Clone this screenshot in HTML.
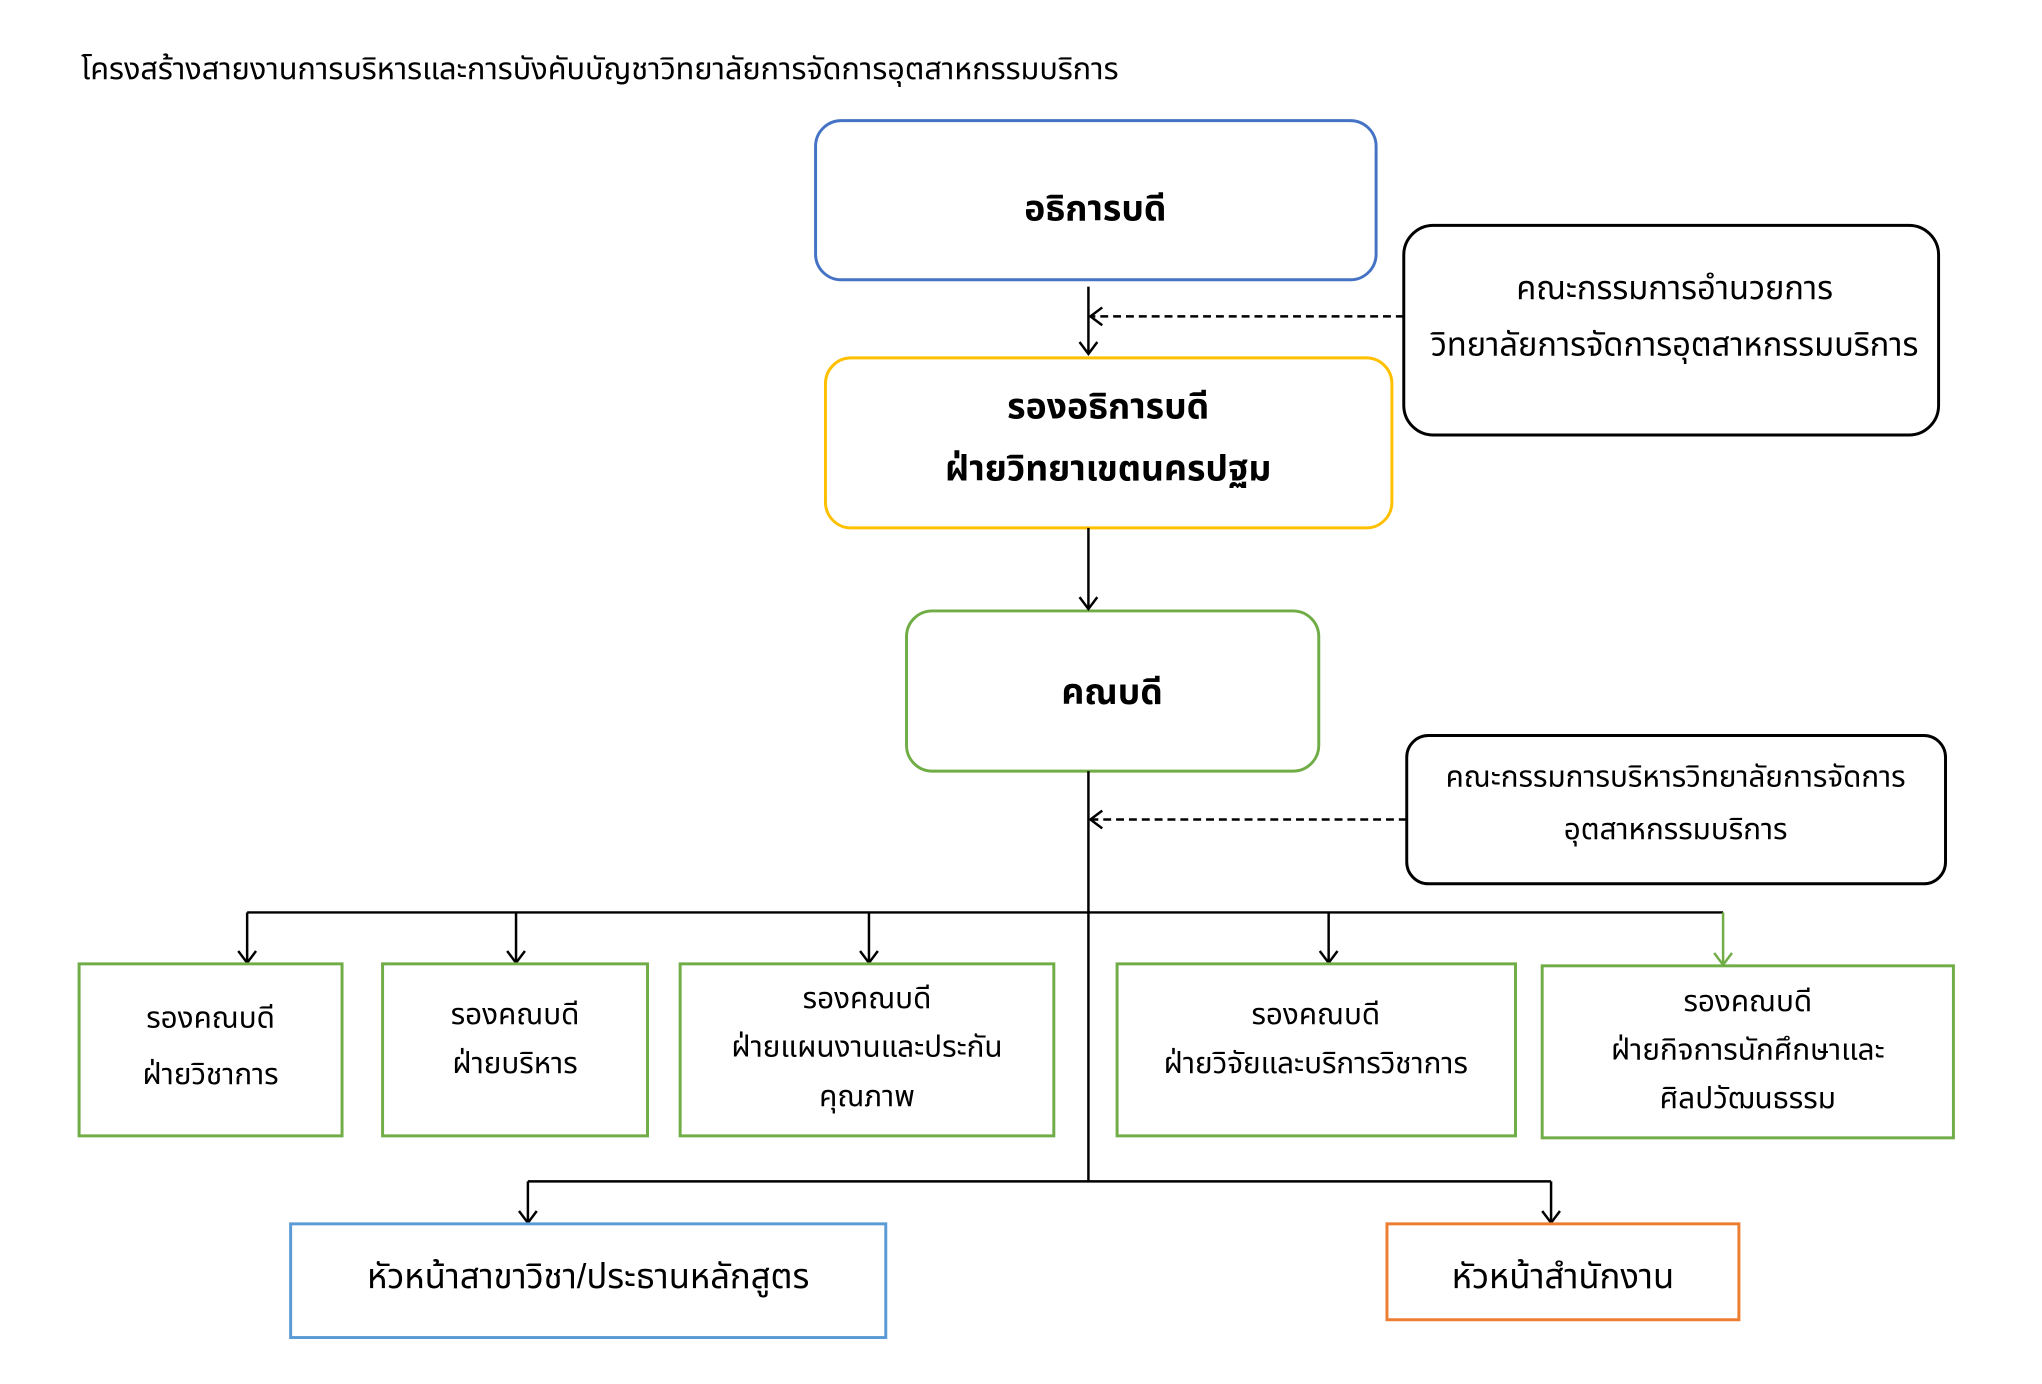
<!DOCTYPE html>
<html><head><meta charset="utf-8"><style>
html,body{margin:0;padding:0;background:#fff;}
svg{display:block;}
text{font-family:"Liberation Sans","Noto Sans Thai","Loma","Garuda",sans-serif;fill:#000;}
</style></head><body>
<svg width="2042" height="1384" viewBox="0 0 2065.6 1400" preserveAspectRatio="none" xmlns="http://www.w3.org/2000/svg">
<defs>
<marker id="a" markerWidth="22" markerHeight="22" refX="18" refY="11" orient="auto" markerUnits="userSpaceOnUse">
<path d="M6,2 L18,11 L6,20" fill="none" stroke="#000" stroke-width="2.5"/></marker>
<marker id="ag" markerWidth="22" markerHeight="22" refX="18" refY="11" orient="auto" markerUnits="userSpaceOnUse">
<path d="M6,2 L18,11 L6,20" fill="none" stroke="#70ad47" stroke-width="2.5"/></marker>
</defs>
<text x="82" y="80" font-size="31">โครงสร้างสายงานการบริหารและการบังคับบัญชาวิทยาลัยการจัดการอุตสาหกรรมบริการ</text>

<rect x="825" y="122" width="567" height="161" rx="26" fill="none" stroke="#4472c4" stroke-width="3"/>
<text x="1108" y="211" font-size="36" font-weight="bold" text-anchor="middle" dominant-baseline="central">อธิการบดี</text>

<rect x="835" y="362" width="573" height="172" rx="26" fill="none" stroke="#ffc000" stroke-width="3"/>
<text x="1121" y="411" font-size="36" font-weight="bold" text-anchor="middle" dominant-baseline="central">รองอธิการบดี</text>
<text x="1121" y="474" font-size="36" font-weight="bold" text-anchor="middle" dominant-baseline="central">ฝ่ายวิทยาเขตนครปฐม</text>

<rect x="917" y="618" width="417" height="162" rx="26" fill="none" stroke="#70ad47" stroke-width="3"/>
<text x="1125" y="700" font-size="36" font-weight="bold" text-anchor="middle" dominant-baseline="central">คณบดี</text>

<rect x="1420" y="228" width="541" height="212" rx="30" fill="none" stroke="#000" stroke-width="3"/>
<text x="1694" y="291" font-size="33" text-anchor="middle" dominant-baseline="central">คณะกรรมการอำนวยการ</text>
<text x="1694" y="348" font-size="33" text-anchor="middle" dominant-baseline="central">วิทยาลัยการจัดการอุตสาหกรรมบริการ</text>

<rect x="1423" y="744" width="545" height="150" rx="22" fill="none" stroke="#000" stroke-width="3"/>
<text x="1695" y="786" font-size="30" text-anchor="middle" dominant-baseline="central">คณะกรรมการบริหารวิทยาลัยการจัดการ</text>
<text x="1695" y="839" font-size="30" text-anchor="middle" dominant-baseline="central">อุตสาหกรรมบริการ</text>

<g stroke="#000" stroke-width="2.5" fill="none">
<line x1="1101" y1="290" x2="1101" y2="358" marker-end="url(#a)"/>
<line x1="1420" y1="320" x2="1103" y2="320" stroke-dasharray="8,5" marker-end="url(#a)"/>
<line x1="1101" y1="534" x2="1101" y2="616" marker-end="url(#a)"/>
<line x1="1101" y1="780" x2="1101" y2="1195"/>
<line x1="1423" y1="829" x2="1103" y2="829" stroke-dasharray="8,5" marker-end="url(#a)"/>
<line x1="250" y1="923" x2="1743" y2="923"/>
<line x1="250" y1="923" x2="250" y2="974" marker-end="url(#a)"/>
<line x1="522" y1="923" x2="522" y2="974" marker-end="url(#a)"/>
<line x1="879" y1="923" x2="879" y2="974" marker-end="url(#a)"/>
<line x1="1344" y1="923" x2="1344" y2="974" marker-end="url(#a)"/>
<line x1="1743" y1="923" x2="1743" y2="976" stroke="#70ad47" marker-end="url(#ag)"/>
<line x1="534" y1="1195" x2="1569" y2="1195"/>
<line x1="534" y1="1195" x2="534" y2="1237" marker-end="url(#a)"/>
<line x1="1569" y1="1195" x2="1569" y2="1237" marker-end="url(#a)"/>
</g>

<g fill="none" stroke="#70ad47" stroke-width="3">
<rect x="80" y="975" width="266" height="174"/>
<rect x="387" y="975" width="268" height="174"/>
<rect x="688" y="975" width="378" height="174"/>
<rect x="1130" y="975" width="403" height="174"/>
<rect x="1560" y="977" width="416" height="174"/>
</g>
<g font-size="30" text-anchor="middle" dominant-baseline="central">
<text x="213" y="1030">รองคณบดี</text><text x="213" y="1087">ฝ่ายวิชาการ</text>
<text x="521" y="1026">รองคณบดี</text><text x="521" y="1076">ฝ่ายบริหาร</text>
<text x="877" y="1010">รองคณบดี</text><text x="877" y="1059">ฝ่ายแผนงานและประกัน</text><text x="877" y="1109">คุณภาพ</text>
<text x="1331" y="1026">รองคณบดี</text><text x="1331" y="1076">ฝ่ายวิจัยและบริการวิชาการ</text>
<text x="1768" y="1013">รองคณบดี</text><text x="1768" y="1062">ฝ่ายกิจการนักศึกษาและ</text><text x="1768" y="1111">ศิลปวัฒนธรรม</text>
</g>

<rect x="294" y="1238" width="602" height="115" fill="none" stroke="#5b9bd5" stroke-width="3"/>
<text x="595" y="1292" font-size="35" text-anchor="middle" dominant-baseline="central">หัวหน้าสาขาวิชา/ประธานหลักสูตร</text>
<rect x="1403" y="1238" width="356" height="97" fill="none" stroke="#ed7d31" stroke-width="3"/>
<text x="1581" y="1292" font-size="35" text-anchor="middle" dominant-baseline="central">หัวหน้าสำนักงาน</text>
</svg>
</body></html>
